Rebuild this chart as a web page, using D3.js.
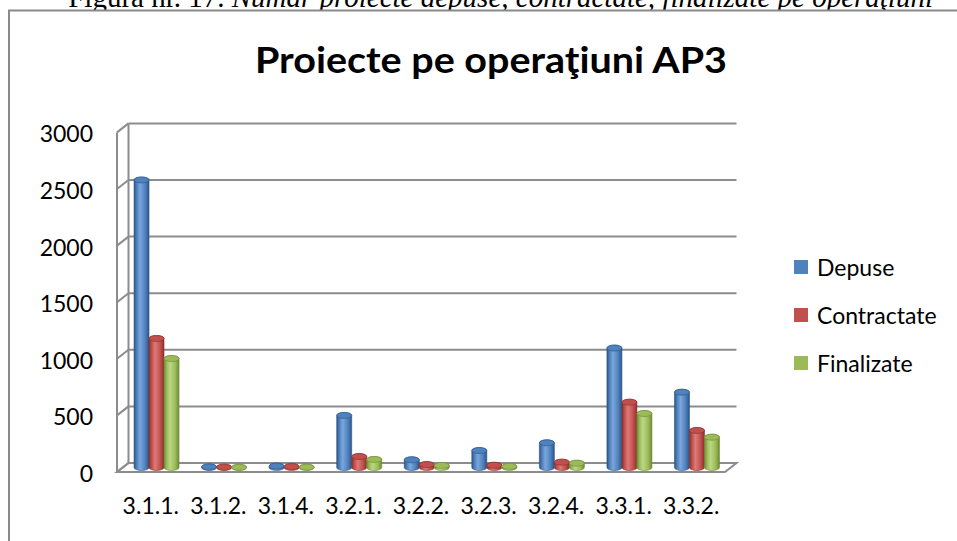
<!DOCTYPE html>
<html>
<head>
<meta charset="utf-8">
<script src="https://cdn.jsdelivr.net/npm/d3@7.9.0/dist/d3.min.js"></script>
<style>
  html, body { margin: 0; padding: 0; background: #fff; }
  svg { display: block; }
</style>
</head>
<body>
<svg id="chart" width="957" height="541"></svg>
<script>
// ---------------------------------------------------------------
// Data
// ---------------------------------------------------------------
const categories = ['3.1.1.', '3.1.2.', '3.1.4.', '3.2.1.', '3.2.2.', '3.2.3.', '3.2.4.', '3.3.1.', '3.3.2.'];
const depuse      = [2540, 5, 12, 460, 68, 150, 218, 1055, 665];
const contractate = [1140, 3,  8,  97, 26,  20,  47,  577, 327];
const finalizate  = [ 963, 2,  3,  71, 18,  10,  38,  477, 268];
const seriesNames = ['Depuse', 'Contractate', 'Finalizate'];
const yTicks = [0, 500, 1000, 1500, 2000, 2500, 3000];

const chartTitle = 'Proiecte pe operaţiuni AP3';

// ---------------------------------------------------------------
// Layout
// ---------------------------------------------------------------
const svg = d3.select('#chart');
const font = 'Lato, "Open Sans", sans-serif';
const colors = ['#4F81BD', '#C0504D', '#9BBB59'];
const darks  = ['#2c5587', '#8c2f2c', '#6d8a35'];
const lights = ['#7ba6dc', '#de7a77', '#bcd783'];

const depthX = 11.5, depthY = -9;      // 3d depth offset (back wall vs front)
const front = { left: 117, right: 725, bottom: 472 };

// y scale for the back wall
const yBack = d3.scaleLinear().domain([0, 3000]).range([463, 123.4]);
// bars stand at mid depth
const yBar = (v) => yBack(v) - depthY / 2;

const x = d3.scaleBand()
  .domain(categories)
  .range([front.left, front.right])
  .paddingInner(0.334)
  .paddingOuter(0.167);

const xs = d3.scaleBand()
  .domain(seriesNames)
  .range([0, x.bandwidth()]);

// ---------------------------------------------------------------
// Gradients for cylinders
// ---------------------------------------------------------------
const defs = svg.append('defs');
colors.forEach((c, i) => {
  const g = defs.append('linearGradient')
    .attr('id', 'cyl' + i)
    .attr('x1', '0%').attr('x2', '100%').attr('y1', '0%').attr('y2', '0%');
  g.append('stop').attr('offset', '0%').attr('stop-color', darks[i]);
  g.append('stop').attr('offset', '18%').attr('stop-color', c);
  g.append('stop').attr('offset', '40%').attr('stop-color', lights[i]);
  g.append('stop').attr('offset', '75%').attr('stop-color', c);
  g.append('stop').attr('offset', '100%').attr('stop-color', darks[i]);
});

// ---------------------------------------------------------------
// Caption above the chart (cut off at the top, as in the source page)
// ---------------------------------------------------------------
const cap = svg.append('text')
  .attr('x', 933).attr('y', 7)
  .attr('text-anchor', 'end')
  .attr('font-family', '"Liberation Serif", "Times New Roman", serif')
  .attr('font-size', 29)
  .attr('fill', '#000');
cap.append('tspan').text('Figura nr. 17. ');
cap.append('tspan').attr('font-style', 'italic')
  .text('Număr proiecte depuse, contractate, finalizate pe operaţiuni');

// chart frame
svg.append('rect')
  .attr('x', 9).attr('y', 10.5)
  .attr('width', 980).attr('height', 560)
  .attr('fill', '#fff')
  .attr('stroke', '#8a8a8a')
  .attr('stroke-width', 2);

// title
svg.append('text')
  .attr('x', 491).attr('y', 73)
  .attr('text-anchor', 'middle')
  .attr('font-family', font)
  .attr('font-weight', 'bold')
  .attr('font-size', 36)
  .attr('textLength', 472)
  .attr('lengthAdjust', 'spacingAndGlyphs')
  .attr('fill', '#000')
  .text(chartTitle);

// ---------------------------------------------------------------
// Walls, floor and gridlines
// ---------------------------------------------------------------
const gridColor = '#8c8c8c';
const backLeft = front.left + depthX;
const backRight = front.right + depthX;

// floor
svg.append('path')
  .attr('d', `M${front.left},${front.bottom} L${front.right},${front.bottom} L${backRight},${yBack(0)} L${backLeft},${yBack(0)} Z`)
  .attr('fill', '#fff')
  .attr('stroke', gridColor)
  .attr('stroke-width', 2);

// gridlines on back wall + slants on side wall
const grid = svg.append('g');
grid.selectAll('line.h')
  .data(yTicks)
  .join('line')
  .attr('class', 'h')
  .attr('x1', backLeft).attr('x2', backRight)
  .attr('y1', (d) => yBack(d)).attr('y2', (d) => yBack(d))
  .attr('stroke', gridColor).attr('stroke-width', 2);

grid.selectAll('line.s')
  .data(yTicks)
  .join('line')
  .attr('class', 's')
  .attr('x1', front.left).attr('x2', backLeft)
  .attr('y1', (d) => yBack(d) - depthY).attr('y2', (d) => yBack(d))
  .attr('stroke', gridColor).attr('stroke-width', 2);

// side wall verticals
grid.append('line')
  .attr('x1', front.left).attr('x2', front.left)
  .attr('y1', yBack(3000) - depthY).attr('y2', front.bottom)
  .attr('stroke', gridColor).attr('stroke-width', 2);
grid.append('line')
  .attr('x1', backLeft).attr('x2', backLeft)
  .attr('y1', yBack(3000)).attr('y2', yBack(0))
  .attr('stroke', gridColor).attr('stroke-width', 2);

// y labels
svg.append('g').selectAll('text')
  .data(yTicks)
  .join('text')
  .attr('x', 93)
  .attr('y', (d) => yBack(d) - depthY + 1)
  .attr('text-anchor', 'end')
  .attr('dominant-baseline', 'central')
  .attr('font-family', font)
  .attr('font-size', 23)
  .attr('fill', '#000')
  .text((d) => d);

// x labels
svg.append('g').selectAll('text')
  .data(categories)
  .join('text')
  .attr('x', (d) => x(d) + x.bandwidth() / 2)
  .attr('y', 505)
  .attr('text-anchor', 'middle')
  .attr('dominant-baseline', 'central')
  .attr('font-family', font)
  .attr('font-size', 23)
  .attr('fill', '#000')
  .text((d) => d);

// ---------------------------------------------------------------
// Cylinders
// ---------------------------------------------------------------
const seriesValues = [depuse, contractate, finalizate];
const barData = [];
categories.forEach((c, ci) => {
  seriesNames.forEach((s, si) => {
    barData.push({ cat: c, series: s, si, value: seriesValues[si][ci] });
  });
});

const ry = 3;
const bars = svg.append('g').selectAll('g')
  .data(barData)
  .join('g');

bars.append('path')
  .attr('d', (d) => {
    const w = xs.bandwidth();
    const x0 = x(d.cat) + xs(d.series) + depthX / 2;
    const yt = yBar(d.value);
    const yb = yBar(0);
    const rx = w / 2;
    return `M${x0},${yb} L${x0},${yt} A${rx},${ry} 0 0 1 ${x0 + w},${yt} L${x0 + w},${yb} A${rx},${ry} 0 0 1 ${x0},${yb} Z`;
  })
  .attr('fill', (d) => `url(#cyl${d.si})`)
  .attr('stroke', (d) => darks[d.si])
  .attr('stroke-width', 0.6);

bars.append('ellipse')
  .attr('cx', (d) => x(d.cat) + xs(d.series) + depthX / 2 + xs.bandwidth() / 2)
  .attr('cy', (d) => yBar(d.value))
  .attr('rx', xs.bandwidth() / 2)
  .attr('ry', ry)
  .attr('fill', (d) => colors[d.si])
  .attr('stroke', (d) => darks[d.si])
  .attr('stroke-width', 0.6);

// ---------------------------------------------------------------
// Legend
// ---------------------------------------------------------------
const legend = svg.append('g').selectAll('g')
  .data(seriesNames)
  .join('g')
  .attr('transform', (d, i) => `translate(794, ${267 + i * 48})`);

legend.append('rect')
  .attr('x', 0).attr('y', -7)
  .attr('width', 14).attr('height', 14)
  .attr('fill', (d, i) => colors[i]);

legend.append('text')
  .attr('x', 23).attr('y', 0)
  .attr('dominant-baseline', 'central')
  .attr('font-family', font)
  .attr('font-size', 23)
  .attr('fill', '#000')
  .text((d) => d);
</script>
</body>
</html>
